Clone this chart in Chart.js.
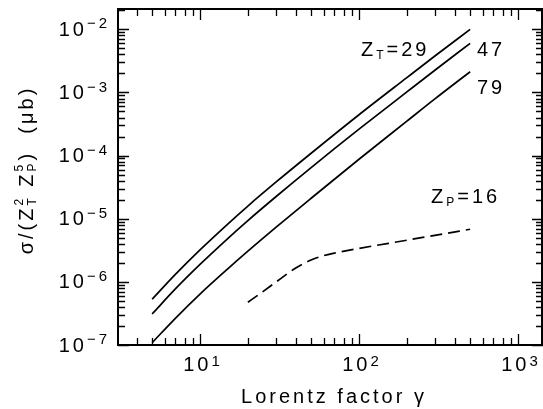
<!DOCTYPE html>
<html>
<head>
<meta charset="utf-8">
<script src="https://cdn.jsdelivr.net/npm/chart.js@4/dist/chart.umd.min.js"></script>
<style>
  body { margin: 0; background: #fff; }
  #wrap { width: 543px; height: 409px; }
</style>
</head>
<body>
<div id="wrap"><canvas id="myChart" width="543" height="409"></canvas></div>
<script>
// Lorentz factor values for the solid curves
var gamma = [5, 7, 10, 15, 20, 30, 50, 100, 200, 300, 500];
// sigma/(Zt^2 Zp^5) in microbarn
var zt29 = [5.30e-7, 1.31e-6, 3.21e-6, 8.32e-6, 1.59e-5, 3.79e-5, 1.09e-4, 4.44e-4, 1.72e-3, 3.78e-3, 1.0e-2];
var zt47 = [3.10e-7, 7.73e-7, 1.89e-6, 4.90e-6, 9.35e-6, 2.23e-5, 6.46e-5, 2.62e-4, 1.02e-3, 2.25e-3, 6.0e-3];
var zt79 = [1.09e-7, 2.65e-7, 6.40e-7, 1.62e-6, 3.06e-6, 7.29e-6, 2.11e-5, 8.75e-5, 3.51e-4, 7.91e-4, 2.13e-3];
// dashed curve, Zp = 16
var gammaP = [20, 25, 30, 40, 50, 60, 70, 100, 200, 300, 500];
var zp16 = [4.75e-7, 7.08e-7, 9.89e-7, 1.66e-6, 2.22e-6, 2.61e-6, 2.86e-6, 3.39e-6, 4.57e-6, 5.46e-6, 6.82e-6];
// tick labels
var xTicks = [10, 100, 1000];
var xTickExp = ["1", "2", "3"];
var yTicks = [1e-7, 1e-6, 1e-5, 1e-4, 1e-3, 1e-2];
var yTickExp = ["\u22127", "\u22126", "\u22125", "\u22124", "\u22123", "\u22122"];

function pts(xs, ys) {
  return xs.map(function (v, i) { return { x: v, y: ys[i] }; });
}

var FONT = "'Liberation Sans', Arial, sans-serif";

// draws a list of text pieces [{t, s, dy, stack}] one after another
function rich(ctx, segs, x, y, align) {
  var total = 0, widths = [];
  segs.forEach(function (g) {
    ctx.font = g.s + "px " + FONT;
    var w = ctx.measureText(g.t).width;
    widths.push(w);
    if (!g.stack) total += w;
  });
  var cx = x;
  if (align === "right") cx = x - total;
  if (align === "center") cx = x - total / 2;
  segs.forEach(function (g, i) {
    ctx.font = g.s + "px " + FONT;
    ctx.fillText(g.t, cx, y + (g.dy || 0));
    if (!g.stack) cx += widths[i];
  });
}

var frame = {
  id: "frame",
  afterDraw: function (chart) {
    var ctx = chart.ctx, a = chart.chartArea;
    var xs = chart.scales.x, ys = chart.scales.y;
    ctx.save();
    ctx.strokeStyle = "#000";
    ctx.fillStyle = "#000";
    ctx.lineWidth = 2;
    ctx.strokeRect(a.left, a.top, a.right - a.left - 1, a.bottom - a.top);

    ctx.lineWidth = 1.3;
    ctx.beginPath();
    for (var d = -8; d <= -1; d++) {
      for (var m = 1; m <= 9; m++) {
        var v = m * Math.pow(10, d);
        if (v < ys.min || v > ys.max) continue;
        var py = Math.round(ys.getPixelForValue(v)) + 0.5;
        var len = m === 1 ? 11 : 7;
        ctx.moveTo(a.left, py); ctx.lineTo(a.left + len, py);
        ctx.moveTo(a.right, py); ctx.lineTo(a.right - len, py);
      }
    }
    for (var e = 0; e <= 3; e++) {
      for (var k = 1; k <= 9; k++) {
        var u = k * Math.pow(10, e);
        if (u < xs.min || u > xs.max) continue;
        var px = Math.round(xs.getPixelForValue(u)) + 0.5;
        var l2 = k === 1 ? 11 : 7;
        ctx.moveTo(px, a.bottom); ctx.lineTo(px, a.bottom - l2);
        ctx.moveTo(px, a.top); ctx.lineTo(px, a.top + l2);
      }
    }
    ctx.stroke();

    ctx.textBaseline = "middle";
    ctx.letterSpacing = "3px";
    yTicks.forEach(function (v, i) {
      var py = ys.getPixelForValue(v);
      rich(ctx, [{ t: "10", s: 20 }, { t: yTickExp[i], s: 15, dy: -6 }], 110, py + 1, "right");
    });
    xTicks.forEach(function (v, i) {
      var px = xs.getPixelForValue(v);
      rich(ctx, [{ t: "10", s: 20 }, { t: xTickExp[i], s: 15, dy: -3 }], px + 3, 365, "center");
    });

    // axis titles
    rich(ctx, [{ t: "Lorentz factor \u03b3", s: 20 }], 334, 397, "center");
    ctx.save();
    ctx.translate(27, 170);
    ctx.rotate(-Math.PI / 2);
    rich(ctx, [
      { t: "\u03c3/(Z", s: 20 },
      { t: "2", s: 12, dy: -7, stack: true },
      { t: "T", s: 12, dy: 6 },
      { t: " Z", s: 20 },
      { t: "5", s: 12, dy: -7, stack: true },
      { t: "P", s: 12, dy: 6 },
      { t: ")  (\u03bcb)", s: 20 }
    ], 0, 0, "center");
    ctx.restore();

    // curve labels
    rich(ctx, [{ t: "Z", s: 20 }, { t: "T", s: 12, dy: 6 }, { t: "=29", s: 20 }], 361, 50, "left");
    rich(ctx, [{ t: "47", s: 20 }], 477, 50, "left");
    rich(ctx, [{ t: "79", s: 20 }], 477, 88, "left");
    rich(ctx, [{ t: "Z", s: 20 }, { t: "P", s: 12, dy: 6 }, { t: "=16", s: 20 }], 431, 197, "left");
    ctx.restore();
  }
};

function line(data, dash) {
  return {
    data: data,
    borderColor: "#000",
    borderWidth: 1.7,
    borderDash: dash || [],
    pointRadius: 0,
    fill: false,
    cubicInterpolationMode: "monotone"
  };
}

new Chart("myChart", {
  type: "line",
  data: {
    datasets: [
      line(pts(gamma, zt29)),
      line(pts(gamma, zt47)),
      line(pts(gamma, zt79)),
      line(pts(gammaP, zp16), [12, 6])
    ]
  },
  options: {
    responsive: false,
    animation: false,
    devicePixelRatio: 1,
    layout: { padding: { left: 118, top: 9, right: 0, bottom: 64 } },
    plugins: { legend: { display: false }, tooltip: { enabled: false } },
    scales: {
      x: { type: "logarithmic", min: 3.05, max: 1436, display: false },
      y: { type: "logarithmic", min: 1e-7, max: 0.021, display: false }
    }
  },
  plugins: [frame]
});
</script>
</body>
</html>
